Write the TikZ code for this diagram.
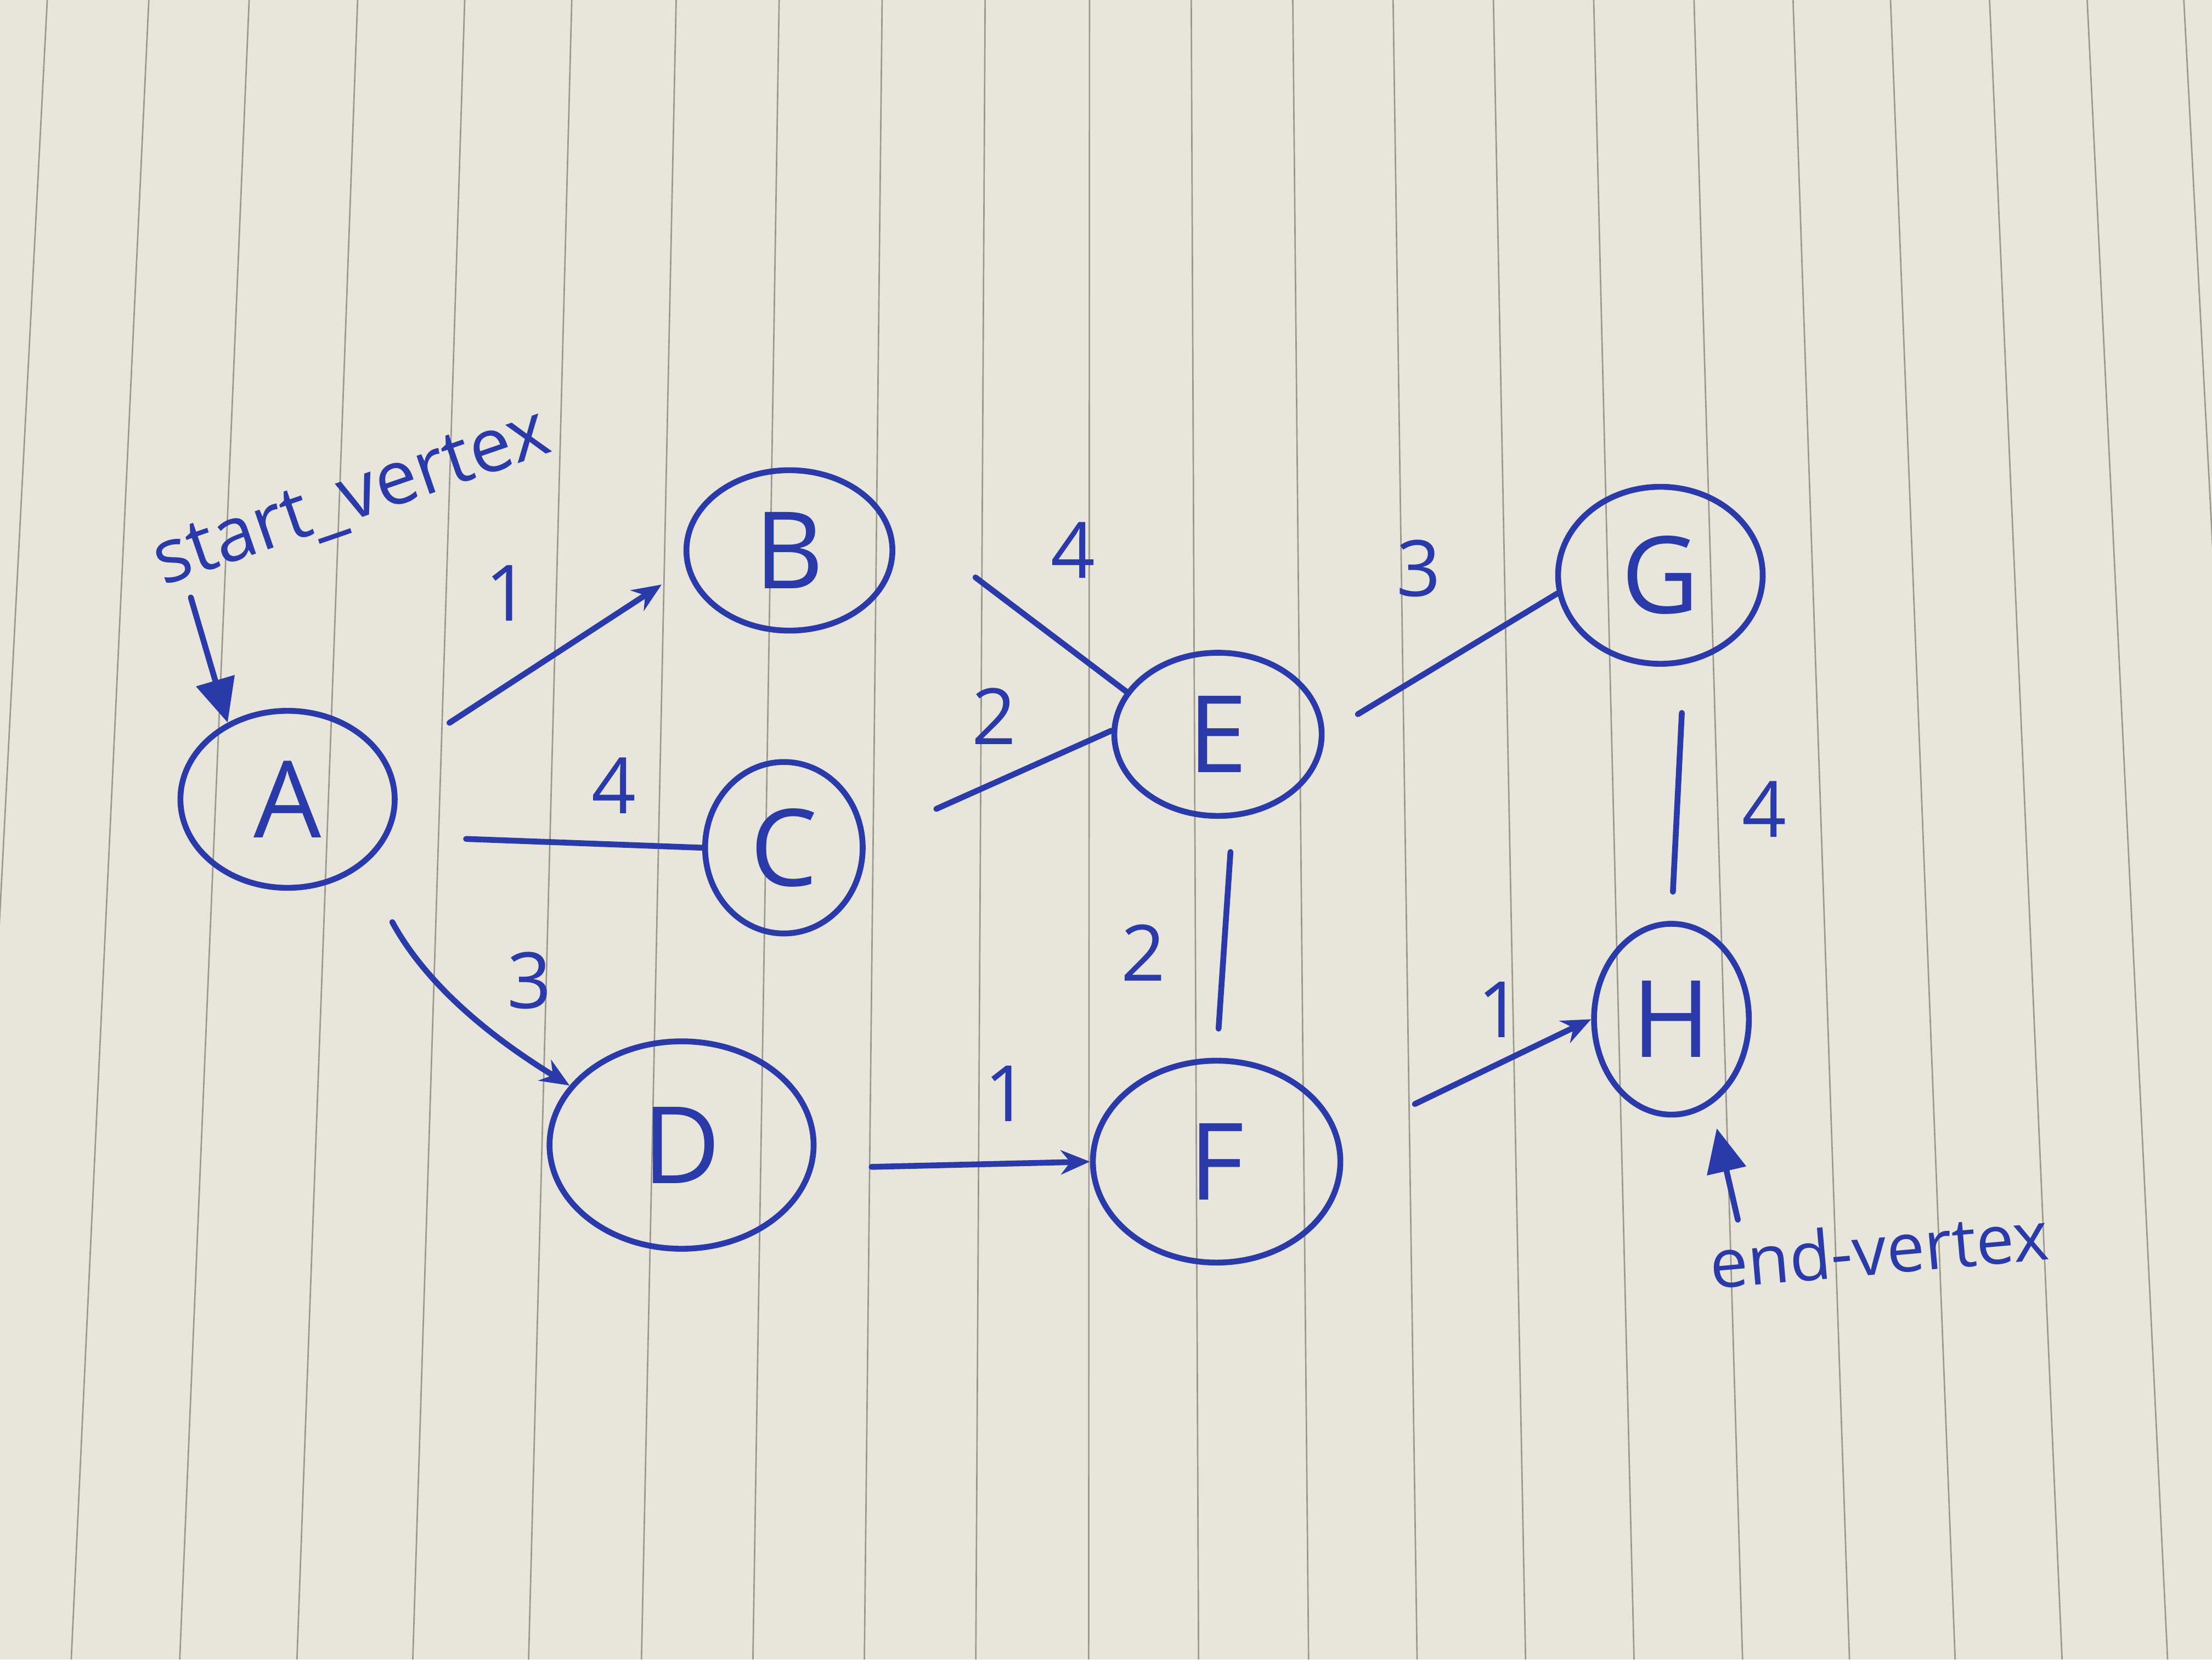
\documentclass[tikz,border=0pt]{standalone}
\usepackage{fontspec}
\setmainfont{Open Sans}
\usepackage{tikz}
\usepackage{xcolor}
\usetikzlibrary{arrows.meta,shapes.geometric}
\definecolor{ink}{RGB}{42,58,168}
\definecolor{paper}{RGB}{232,229,220}
\definecolor{ruling}{RGB}{155,151,145}

\begin{document}
\begin{tikzpicture}[
    vertex/.style={ellipse,draw=ink,line width=1.2pt,text=ink,inner sep=0pt,
                   font=\fontsize{22}{24}\selectfont},
    weight/.style={text=ink,font=\fontsize{16}{18}\selectfont},
    note/.style={text=ink,font=\fontsize{15.5}{17}\selectfont},
    link/.style={draw=ink,line width=1.2pt,line cap=round},
    directed/.style={link,-{Stealth[length=6pt,width=5pt]}},
    pointer/.style={link,-{Triangle[length=9pt,width=8pt]}}]
\useasboundingbox (0,0) rectangle (16,-12);
\fill[paper] (0,0) rectangle (16,-12);
\begin{scope}
\clip (0,0) rectangle (16,-12);
\foreach \t/\b in {33.5/-27.5,105.5/50.5,176.6/127.4,253.5/210.5,329.4/292.6,
    405.3/374.7,479.3/454.7,552.3/533.7,625.3/612.7,698.3/691.7,772.3/771.7,
    844.4/849.6,916.4/927.6,987.5/1004.5,1058.6/1081.4,1129.7/1158.3,
    1200.8/1235.2,1271/1311,1340.1/1385.9,1410.3/1461.7,1479.5/1536.5,1548/1610}
  \draw[ruling,line width=0.3pt] ({\t/98},0) -- ({\b/98},-12);
\end{scope}

\node[vertex,minimum width=1.55cm,minimum height=1.28cm] (A) at (2.08,-5.78) {A};
\node[vertex,minimum width=1.49cm,minimum height=1.16cm] (B) at (5.71,-3.98) {B};
\node[vertex,minimum width=1.14cm,minimum height=1.24cm] (C) at (5.67,-6.13) {C};
\node[vertex,minimum width=1.91cm,minimum height=1.50cm] (D) at (4.93,-8.28) {D};
\node[vertex,minimum width=1.50cm,minimum height=1.18cm] (E) at (8.81,-5.31) {E};
\node[vertex,minimum width=1.79cm,minimum height=1.46cm] (F) at (8.80,-8.40) {F};
\node[vertex,minimum width=1.48cm,minimum height=1.28cm] (G) at (12.01,-4.16) {G};
\node[vertex,minimum width=1.12cm,minimum height=1.38cm] (H) at (12.09,-7.37) {H};

\draw[directed,shorten <=15pt,shorten >=6pt] (A.20) -- (B.190);
\draw[link,shorten <=16pt] (A.-20) -- (C.west);
\draw[directed,shorten <=13pt] (A.-42) to[bend right=15] (D.152);
\draw[link,shorten <=26pt] (B.30) -- (E.155);
\draw[link,shorten <=16pt] (C.5) -- (E.178);
\draw[link,shorten <=8pt] (E.east) -- (G.190);
\draw[link,shorten <=7pt,shorten >=6pt] (E.-80) -- (F.north);
\draw[link,shorten <=10pt,shorten >=6pt] (G.-75) -- (H.north);
\draw[directed,shorten <=12pt] (D.-10) -- (F.west);
\draw[directed,shorten <=17pt] (F.10) -- (H.west);

\node[weight] (wAB) at (3.67,-4.29) {1};
\node[weight] (wAC) at (4.44,-5.68) {4};
\node[weight] (wAD) at (3.83,-7.09) {3};
\node[weight] (wBE) at (7.76,-3.98) {4};
\node[weight] (wCE) at (7.19,-5.18) {2};
\node[weight] (wEG) at (10.26,-4.11) {3};
\node[weight] (wEF) at (8.27,-6.89) {2};
\node[weight] (wGH) at (12.76,-5.85) {4};
\node[weight] (wDF) at (7.28,-7.91) {1};
\node[weight] (wFH) at (10.85,-7.30) {1};

\node[note,rotate=19] (start) at (2.55,-3.62) {start\_vertex};
\coordinate (s) at (1.38,-4.32);
\draw[pointer] (s) -- (A.128);
\node[note,font=\fontsize{14}{16}\selectfont,rotate=5] (end) at (13.59,-9.03) {end-vertex};
\coordinate (e) at (12.57,-8.82);
\draw[pointer,shorten >=5pt] (e) -- (H.-65);
\end{tikzpicture}
\end{document}
